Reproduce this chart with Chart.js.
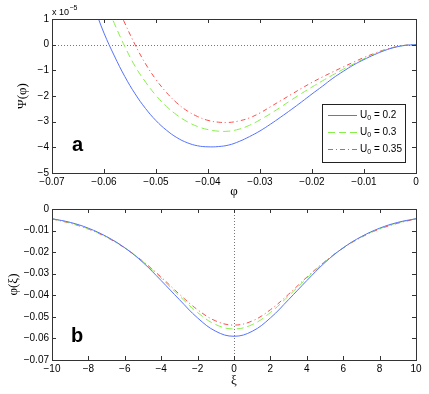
<!DOCTYPE html>
<html>
<head>
<meta charset="utf-8">
<script src="https://cdn.jsdelivr.net/npm/chart.js@4.4.0/dist/chart.umd.min.js"></script>
<style>
  html, body { margin: 0; padding: 0; background: #fff; }
  #wrap { position: relative; width: 429px; height: 394px; }
  canvas { position: absolute; left: 0; }
  #top { top: 0; }
  #bot { top: 200px; }
</style>
</head>
<body>
<div id="wrap">
  <canvas id="top" width="429" height="200"></canvas>
  <canvas id="bot" width="429" height="194"></canvas>
</div>
<script>
// panel a: Sagdeev potential Psi(phi), values in units of 1e-5
const phiGrid = [-0.062, -0.060, -0.058, -0.056, -0.054, -0.052, -0.050, -0.048, -0.046, -0.044,
                 -0.042, -0.040, -0.038, -0.036, -0.034, -0.032, -0.030, -0.028, -0.026, -0.024,
                 -0.022, -0.020, -0.018, -0.016, -0.014, -0.012, -0.010, -0.008, -0.006, -0.004,
                 -0.002, 0];
const psiU02 = [1.52, 0.45, -0.44, -1.24, -1.92, -2.49, -2.96, -3.33, -3.62, -3.82,
                -3.94, -3.98, -3.97, -3.91, -3.77, -3.58, -3.36, -3.10, -2.82, -2.53,
                -2.23, -1.92, -1.62, -1.31, -1.04, -0.79, -0.58, -0.39, -0.225, -0.10,
                -0.025, 0];
const psiU03 = [2.93, 1.81, 0.82, -0.07, -0.85, -1.46, -1.98, -2.40, -2.74, -3.00,
                -3.19, -3.31, -3.37, -3.37, -3.29, -3.14, -2.93, -2.69, -2.43, -2.16,
                -1.90, -1.65, -1.41, -1.18, -0.96, -0.75, -0.55, -0.37, -0.21, -0.095,
                -0.024, 0];
const psiU035 = [4.0, 2.81, 1.75, 0.84, -0.01, -0.75, -1.36, -1.86, -2.27, -2.58,
                 -2.80, -2.95, -3.02, -3.03, -2.97, -2.85, -2.66, -2.42, -2.18, -1.94,
                 -1.70, -1.47, -1.26, -1.06, -0.87, -0.68, -0.50, -0.34, -0.195, -0.09,
                 -0.023, 0];

// panel b: soliton profile phi(xi)
const xiGrid = [-10, -9, -8, -7, -6, -5, -4, -3, -2, -1, 0, 1, 2, 3, 4, 5, 6, 7, 8, 9, 10];
const solU02 = [-0.0045, -0.0062, -0.0089, -0.0128, -0.0180, -0.0248, -0.0332, -0.0420, -0.0505, -0.0567, -0.0590,
                -0.0567, -0.0505, -0.0420, -0.0332, -0.0248, -0.0180, -0.0128, -0.0089, -0.0062, -0.0045];
const solU03 = [-0.0045, -0.0064, -0.0092, -0.0129, -0.0180, -0.0244, -0.0321, -0.0403, -0.0480, -0.0536, -0.0556,
                -0.0536, -0.0480, -0.0403, -0.0321, -0.0244, -0.0180, -0.0129, -0.0092, -0.0064, -0.0045];
const solU035 = [-0.0046, -0.0066, -0.0093, -0.0131, -0.0181, -0.0243, -0.0316, -0.0395, -0.0467, -0.0519, -0.0538,
                 -0.0519, -0.0467, -0.0395, -0.0316, -0.0243, -0.0181, -0.0131, -0.0093, -0.0066, -0.0046];

const seriesLabels = ['0.2', '0.3', '0.35'];
const colors = ['#5572ff', '#86f048', '#ff4d4d'];
const dashes = [[], [7, 4], [5, 3, 1, 3]];

const FONT = '"Liberation Sans", Arial, Helvetica, sans-serif';
const GREEK = '"Liberation Serif", "DejaVu Serif", serif';

function fmt(v) {
  if (Math.abs(v) < 1e-9) return '0';
  return String(Number(v.toFixed(3))).replace('-', '\u2212');
}

function makeSets(xs, ys) {
  return ys.map((arr, i) => ({
    label: 'U0 = ' + seriesLabels[i],
    data: xs.map((x, j) => ({ x: x, y: arr[j] })),
    borderColor: colors[i],
    borderWidth: 1,
    borderDash: dashes[i],
    pointRadius: 0,
    tension: 0.4,
    fill: false
  }));
}

// fixed-size scales so the plot box lands where the reference has it
function axis(min, max, step, size, isX) {
  return {
    type: 'linear', min: min, max: max,
    ticks: { stepSize: step, callback: fmt, font: { family: FONT, size: 10 }, color: '#000', padding: 3 },
    grid: { display: false, drawTicks: false },
    border: { display: false },
    afterFit: s => { if (isX) s.height = size; else s.width = size; }
  };
}

// box, inward ticks, dotted reference line, titles, legend
const decor = {
  id: 'decor',
  beforeDatasetsDraw(chart) {
    const o = chart.options.plugins.decor;
    const { ctx, chartArea: a, scales: { x, y } } = chart;
    ctx.save();
    ctx.strokeStyle = '#777';
    ctx.lineWidth = 1;
    ctx.setLineDash([1, 2]);
    ctx.beginPath();
    if (o.ref === 'y') {
      const py = Math.round(y.getPixelForValue(0)) + 0.5;
      ctx.moveTo(a.left, py); ctx.lineTo(a.right, py);
    } else {
      const px = Math.round(x.getPixelForValue(0)) + 0.5;
      ctx.moveTo(px, a.top); ctx.lineTo(px, a.bottom);
    }
    ctx.stroke();
    ctx.restore();
  },
  afterDatasetsDraw(chart) {
    const o = chart.options.plugins.decor;
    const { ctx, chartArea: a, scales: { x, y } } = chart;
    ctx.save();
    ctx.strokeStyle = '#333';
    ctx.lineWidth = 1;
    ctx.strokeRect(a.left + 0.5, a.top + 0.5, a.right - a.left, a.bottom - a.top);
    const len = 4;
    ctx.beginPath();
    x.ticks.forEach(t => {
      const px = Math.round(x.getPixelForValue(t.value)) + 0.5;
      ctx.moveTo(px, a.bottom); ctx.lineTo(px, a.bottom - len);
      ctx.moveTo(px, a.top); ctx.lineTo(px, a.top + len);
    });
    y.ticks.forEach(t => {
      const py = Math.round(y.getPixelForValue(t.value)) + 0.5;
      ctx.moveTo(a.left, py); ctx.lineTo(a.left + len, py);
      ctx.moveTo(a.right, py); ctx.lineTo(a.right - len, py);
    });
    ctx.stroke();

    ctx.fillStyle = '#000';
    ctx.textAlign = 'center';
    ctx.textBaseline = 'middle';
    ctx.font = '13px ' + GREEK;
    ctx.fillText(o.xTitle, (a.left + a.right) / 2, o.xTitleY);
    ctx.save();
    ctx.translate(o.yTitleX, (a.top + a.bottom) / 2);
    ctx.rotate(-Math.PI / 2);
    ctx.fillText(o.yTitle, 0, 0);
    ctx.restore();

    ctx.textAlign = 'left';
    ctx.textBaseline = 'alphabetic';
    ctx.font = 'bold 20px ' + FONT;
    ctx.fillText(o.tag, o.tagX, o.tagY);

    if (o.exponent) {
      ctx.font = '9px ' + FONT;
      ctx.fillText('x 10', a.left, a.top - 4);
      const w = ctx.measureText('x 10').width;
      ctx.font = '7px ' + FONT;
      ctx.fillText('\u22125', a.left + w + 0.5, a.top - 9);
    }

    if (o.legend) {
      const L = o.legend;
      ctx.fillStyle = '#fff';
      ctx.fillRect(L.x, L.y, L.w, L.h);
      ctx.strokeStyle = '#222';
      ctx.setLineDash([]);
      ctx.strokeRect(L.x + 0.5, L.y + 0.5, L.w, L.h);
      chart.data.datasets.forEach((ds, i) => {
        const ry = L.y + 11.5 + i * 17;
        ctx.strokeStyle = ds.borderColor;
        ctx.setLineDash(ds.borderDash);
        ctx.beginPath();
        ctx.moveTo(L.x + 6, ry); ctx.lineTo(L.x + 35, ry);
        ctx.stroke();
        ctx.setLineDash([]);
        ctx.fillStyle = '#000';
        ctx.textBaseline = 'middle';
        ctx.font = '10px ' + FONT;
        let tx = L.x + 38;
        ctx.fillText('U', tx, ry);
        tx += ctx.measureText('U').width;
        ctx.font = '7px ' + FONT;
        ctx.fillText('0', tx, ry + 3);
        tx += ctx.measureText('0').width;
        ctx.font = '10px ' + FONT;
        ctx.fillText(' = ' + seriesLabels[i], tx, ry);
      });
    }
    ctx.restore();
  }
};

new Chart(document.getElementById('top'), {
  type: 'line',
  data: { datasets: makeSets(phiGrid, [psiU02, psiU03, psiU035]) },
  options: {
    responsive: false,
    animation: false,
    devicePixelRatio: 1,
    layout: { padding: { left: 0, right: 13, top: 19, bottom: 0 } },
    scales: { x: axis(-0.07, 0, 0.01, 27, true), y: axis(-5, 1, 1, 52, false) },
    plugins: {
      legend: { display: false },
      tooltip: { enabled: false },
      decor: {
        ref: 'y', xTitle: '\u03c6', xTitleY: 192, yTitle: '\u03a8(\u03c6)', yTitleX: 23,
        tag: 'a', tagX: 72, tagY: 151, exponent: true,
        legend: { x: 322, y: 104, w: 83, h: 58 }
      }
    }
  },
  plugins: [decor]
});

new Chart(document.getElementById('bot'), {
  type: 'line',
  data: { datasets: makeSets(xiGrid, [solU02, solU03, solU035]) },
  options: {
    responsive: false,
    animation: false,
    devicePixelRatio: 1,
    layout: { padding: { left: 0, right: 13, top: 8, bottom: 0 } },
    scales: { x: axis(-10, 10, 2, 34, true), y: axis(-0.07, 0, 0.01, 52, false) },
    plugins: {
      legend: { display: false },
      tooltip: { enabled: false },
      decor: {
        ref: 'x', xTitle: '\u03be', xTitleY: 181, yTitle: '\u03c6(\u03be)', yTitleX: 14,
        tag: 'b', tagX: 71, tagY: 142, exponent: false
      }
    }
  },
  plugins: [decor]
});
</script>
</body>
</html>
